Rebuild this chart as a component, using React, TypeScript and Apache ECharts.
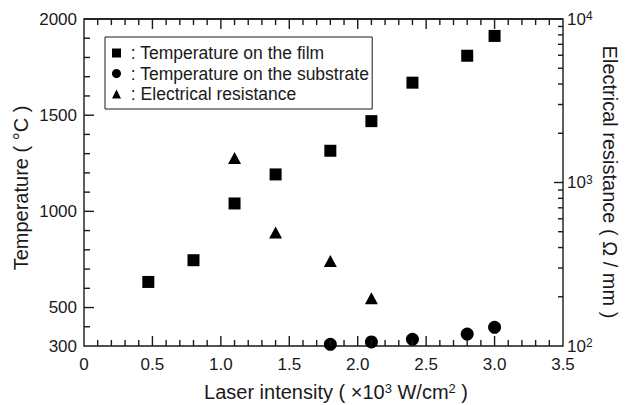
import React, { useEffect, useRef } from "react";
import * as echarts from "echarts";

// ---- data ----
const filmX = [0.47, 0.8, 1.1, 1.4, 1.8, 2.1, 2.4, 2.8, 3.0];
const filmTemp = [633, 746, 1041, 1192, 1315, 1469, 1669, 1809, 1912];

const subX = [1.8, 2.1, 2.4, 2.8, 3.0];
const subTemp = [309, 321, 335, 362, 397];

const resX = [1.1, 1.4, 1.8, 2.1];
const resVal = [1410, 494, 331, 196];

const seriesNames = [
  "Temperature on the film",
  "Temperature on the substrate",
  "Electrical resistance",
];

// ---- tick positions ----
const xMajorTicks = [0.5, 1.0, 1.5, 2.0, 2.5, 3.0];
const xMinorTicks = [
  0.1, 0.2, 0.3, 0.4, 0.6, 0.7, 0.8, 0.9, 1.1, 1.2, 1.3, 1.4, 1.6, 1.7, 1.8, 1.9,
  2.1, 2.2, 2.3, 2.4, 2.6, 2.7, 2.8, 2.9, 3.1, 3.2, 3.3, 3.4,
];
const tempLabels = [300, 500, 1000, 1500, 2000];
const tempMajorTicks = [500, 1000, 1500];
const tempMinorTicks = [400, 600, 700, 800, 900, 1100, 1200, 1300, 1400, 1600, 1700, 1800, 1900];
const resMajorTicks = [1000];
const resMinorTicks = [200, 300, 400, 500, 600, 700, 800, 900, 2000, 3000, 4000, 5000, 6000, 7000, 8000, 9000];

const X_MIN = 0;
const X_MAX = 3.5;
const T_MIN = 300;
const T_MAX = 2000;

const FONT = "Liberation Sans, Arial, Helvetica, sans-serif";
const INK = "#1a1a1a";
const LW = 1.4;

// tick marks drawn as thin rect symbols placed through the axes' scales
const tickMarks = (
  points: number[][],
  yAxisIndex: number,
  size: [number, number],
  offset: [number, number]
) => ({
  type: "scatter",
  xAxisIndex: 0,
  yAxisIndex,
  silent: true,
  clip: false,
  z: 3,
  symbol: "rect",
  symbolSize: size,
  symbolOffset: offset,
  itemStyle: { color: INK, opacity: 1 },
  emphasis: { disabled: true },
  data: points,
});

export default function App() {
  const ref = useRef<HTMLDivElement>(null);

  useEffect(() => {
    document.body.style.margin = "0";
    const chart = echarts.init(ref.current!, undefined, { renderer: "svg" });
    const option: any = {
      animation: false,
      backgroundColor: "#fff",
      grid: {
        left: 84,
        right: 62,
        top: 19,
        bottom: 59,
        show: true,
        borderColor: INK,
        borderWidth: LW,
        backgroundColor: "transparent",
      },
      legend: {
        orient: "vertical",
        left: 105,
        top: 37,
        data: seriesNames,
        formatter: (n: string) => " : " + n,
        itemWidth: 9,
        itemHeight: 9,
        itemGap: 2.5,
        padding: [7, 3, 6, 7],
        borderColor: INK,
        borderWidth: 1,
        selectedMode: false,
        textStyle: { fontSize: 17.5, fontFamily: FONT, color: INK, lineHeight: 17 },
      },
      xAxis: [
        {
          type: "value",
          position: "bottom",
          min: X_MIN,
          max: X_MAX,
          interval: 0.5,
          axisLine: { show: false, onZero: false },
          axisTick: { show: false },
          splitLine: { show: false },
          axisLabel: {
            fontSize: 17,
            fontFamily: FONT,
            color: INK,
            margin: 10,
            formatter: (v: number) => (v === 0 ? "0" : v.toFixed(1)),
          },
        },
      ],
      yAxis: [
        {
          type: "value",
          position: "left",
          min: T_MIN,
          max: T_MAX,
          axisLine: { show: false, onZero: false },
          axisTick: { show: false },
          axisLabel: {
            customValues: tempLabels,
            fontSize: 17,
            fontFamily: FONT,
            color: INK,
            margin: 7,
            formatter: (v: number) => String(v),
          },
          splitLine: { show: false },
        },
        {
          type: "log",
          logBase: 10,
          position: "right",
          min: 100,
          max: 10000,
          axisLine: { show: false, onZero: false },
          axisTick: { show: false },
          axisLabel: {
            fontSize: 17,
            fontFamily: FONT,
            color: INK,
            margin: 4,
            lineHeight: 18,
            formatter: (v: number) => "10{sup|" + Math.round(Math.log10(v)) + "}",
            rich: { sup: { fontSize: 12, fontFamily: FONT, color: INK, verticalAlign: "top", lineHeight: 10 } },
          },
          splitLine: { show: false },
        },
      ],
      series: [
        {
          type: "scatter",
          name: seriesNames[0],
          xAxisIndex: 0,
          yAxisIndex: 0,
          symbol: "rect",
          symbolSize: 12,
          clip: false,
          itemStyle: { color: "#000", opacity: 1 },
          data: filmX.map((x, i) => [x, filmTemp[i]]),
        },
        {
          type: "scatter",
          name: seriesNames[1],
          xAxisIndex: 0,
          yAxisIndex: 0,
          symbol: "circle",
          symbolSize: 13,
          clip: false,
          itemStyle: { color: "#000", opacity: 1 },
          data: subX.map((x, i) => [x, subTemp[i]]),
        },
        {
          type: "scatter",
          name: seriesNames[2],
          xAxisIndex: 0,
          yAxisIndex: 1,
          symbol: "triangle",
          symbolSize: [13, 12],
          clip: false,
          itemStyle: { color: "#000", opacity: 1 },
          data: resX.map((x, i) => [x, resVal[i]]),
        },
        // top frame edge
        {
          type: "line",
          xAxisIndex: 0,
          yAxisIndex: 0,
          silent: true,
          symbol: "none",
          clip: false,
          lineStyle: { color: INK, width: LW },
          data: [
            [X_MIN, T_MAX],
            [X_MAX, T_MAX],
          ],
        },
        // bottom axis ticks (pointing up)
        tickMarks(xMajorTicks.map((v) => [v, T_MIN]), 0, [LW, 10], [0, -5]),
        tickMarks(xMinorTicks.map((v) => [v, T_MIN]), 0, [LW, 6], [0, -3]),
        // top axis ticks (pointing down)
        tickMarks(xMajorTicks.map((v) => [v, T_MAX]), 0, [LW, 10], [0, 5]),
        tickMarks(xMinorTicks.map((v) => [v, T_MAX]), 0, [LW, 6], [0, 3]),
        // left axis ticks (pointing right)
        tickMarks(tempMajorTicks.map((v) => [X_MIN, v]), 0, [10, LW], [5, 0]),
        tickMarks(tempMinorTicks.map((v) => [X_MIN, v]), 0, [6, LW], [3, 0]),
        // right log axis ticks (pointing left)
        tickMarks(resMajorTicks.map((v) => [X_MAX, v]), 1, [9, LW], [-4.5, 0]),
        tickMarks(resMinorTicks.map((v) => [X_MAX, v]), 1, [5, LW], [-2.5, 0]),
      ],
      graphic: [
        {
          type: "text",
          x: 21,
          y: 188,
          rotation: Math.PI / 2,
          style: {
            text: "Temperature ( °C )",
            fontSize: 20,
            fontFamily: FONT,
            fill: INK,
            align: "center",
            verticalAlign: "middle",
          },
        },
        {
          type: "text",
          x: 610,
          y: 182,
          rotation: -Math.PI / 2,
          style: {
            text: "Electrical resistance ( Ω / mm )",
            fontSize: 20,
            fontFamily: FONT,
            fill: INK,
            align: "center",
            verticalAlign: "middle",
          },
        },
        {
          type: "text",
          x: 336,
          y: 392,
          style: {
            text: "Laser intensity ( ×10{sup|3} W/cm{sup|2} )",
            fontSize: 20,
            fontFamily: FONT,
            fill: INK,
            lineHeight: 20,
            align: "center",
            verticalAlign: "middle",
            rich: { sup: { fontSize: 13, fontFamily: FONT, fill: INK, verticalAlign: "top", lineHeight: 11 } },
          },
        },
      ],
    };
    chart.setOption(option);
    return () => chart.dispose();
  }, []);

  return <div ref={ref} style={{ width: 625, height: 405 }} />;
}
